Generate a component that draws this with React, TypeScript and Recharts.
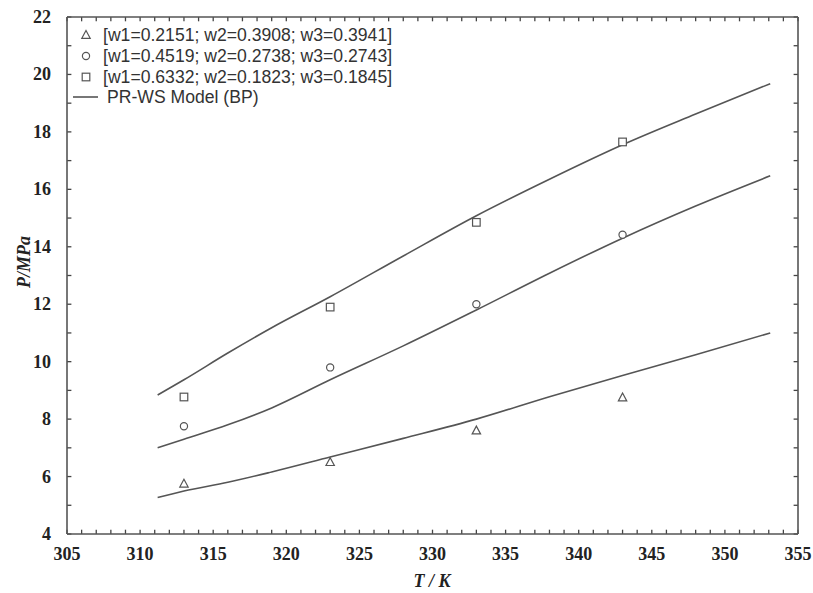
import React from "react";
import {
  ComposedChart,
  Line,
  Scatter,
  XAxis,
  YAxis,
  ReferenceLine,
} from "recharts";

// Experimental bubble points for the three compositions
const expT = [313, 323, 333, 343];
const expP1 = [5.75, 6.5, 7.6, 8.75];
const expP2 = [7.75, 9.8, 12.0, 14.42];
const expP3 = [8.77, 11.9, 14.85, 17.65];

// PR-WS model curves
const modelT = [311.2, 313, 316, 319, 323, 328, 333, 338, 343, 348, 353.1];
const modelP1 = [5.27, 5.5, 5.8, 6.16, 6.68, 7.33, 8.0, 8.78, 9.52, 10.24, 11.0];
const modelP2 = [7.0, 7.3, 7.8, 8.39, 9.37, 10.55, 11.8, 13.08, 14.3, 15.42, 16.47];
const modelP3 = [8.84, 9.37, 10.3, 11.18, 12.26, 13.68, 15.08, 16.35, 17.55, 18.62, 19.68];

const legendLabels = [
  "[w1=0.2151; w2=0.3908; w3=0.3941]",
  "[w1=0.4519; w2=0.2738; w3=0.2743]",
  "[w1=0.6332; w2=0.1823; w3=0.1845]",
  "PR-WS Model (BP)",
];

const X_MIN = 305;
const X_MAX = 355;
const Y_MIN = 4;
const Y_MAX = 22;
const xTicks = Array.from({ length: 51 }, (_, i) => 305 + i);
const yTicks = Array.from({ length: 19 }, (_, i) => 4 + i);

const toPoints = (t: number[], p: number[]) => t.map((T, i) => ({ T, P: p[i] }));

const exp1 = toPoints(expT, expP1);
const exp2 = toPoints(expT, expP2);
const exp3 = toPoints(expT, expP3);
const model1 = toPoints(modelT, modelP1);
const model2 = toPoints(modelT, modelP2);
const model3 = toPoints(modelT, modelP3);

const INK = "#555";
const TEXT = "#222";
// inward tick length, in data units (roughly 4-5px on each axis)
const TICK_DX = 0.3;
const TICK_DY = 0.15;
const tickFont = { fontFamily: "'Liberation Serif', 'Times New Roman', serif", fontWeight: 700, fontSize: 18, fill: TEXT };

const BottomLabel = (props: any) => {
  const { x, y, payload } = props;
  if (payload.value % 5 !== 0) return <g />;
  return (
    <text x={x} y={y + 26} textAnchor="middle" style={tickFont}>
      {payload.value}
    </text>
  );
};

const LeftLabel = (props: any) => {
  const { x, y, payload } = props;
  if (payload.value % 2 !== 0) return <g />;
  return (
    <text x={x - 16} y={y + 6} textAnchor="end" style={tickFont}>
      {payload.value}
    </text>
  );
};

const NoLabel = () => <g />;

const TriangleMark = (p: any) => (
  <polygon
    points={`${p.cx},${p.cy - 4.5} ${p.cx + 4.2},${p.cy + 3.3} ${p.cx - 4.2},${p.cy + 3.3}`}
    fill="#fff"
    stroke={INK}
    strokeWidth={1.2}
  />
);
const CircleMark = (p: any) => (
  <circle cx={p.cx} cy={p.cy} r={3.6} fill="#fff" stroke={INK} strokeWidth={1.2} />
);
const SquareMark = (p: any) => (
  <rect x={p.cx - 3.8} y={p.cy - 3.8} width={7.6} height={7.6} fill="#fff" stroke={INK} strokeWidth={1.2} />
);

const legendFont = { fontFamily: "'Liberation Sans', Arial, sans-serif", fontSize: 17.6, fill: "#333" };
const titleFont = { fontFamily: "'Liberation Serif', 'Times New Roman', serif", fontWeight: 700, fontStyle: "italic", fontSize: 18, fill: TEXT };

export default function App() {
  const lineProps = {
    type: "monotone" as const,
    dataKey: "P",
    stroke: INK,
    strokeWidth: 1.6,
    dot: false,
    activeDot: false,
    isAnimationActive: false,
    legendType: "none" as const,
  };
  const frame = { stroke: INK, strokeWidth: 1.6 };
  const shared = {
    type: "number" as const,
    interval: 0 as const,
    allowDataOverflow: true,
    tickSize: 0,
    tickMargin: 0,
    axisLine: frame,
    tickLine: false,
  };
  const tickSeg = { stroke: "#444", strokeWidth: 1.3, xAxisId: "b", yAxisId: "l", ifOverflow: "visible" as const };
  return (
    <div style={{ position: "relative", width: 813, height: 593, background: "#fff" }}>
      <style>{"body{margin:0}"}</style>
      <ComposedChart width={813} height={593} margin={{ top: 16, right: 14, bottom: 0, left: 0 }}>
        <XAxis xAxisId="b" dataKey="T" domain={[X_MIN, X_MAX]} ticks={xTicks} height={59} tick={BottomLabel} {...shared} />
        <XAxis xAxisId="t" orientation="top" dataKey="T" domain={[X_MIN, X_MAX]} ticks={xTicks} height={1} tick={NoLabel} {...shared} />
        <YAxis yAxisId="l" dataKey="P" domain={[Y_MIN, Y_MAX]} ticks={yTicks} width={67} tick={LeftLabel} {...shared} />
        <YAxis yAxisId="r" orientation="right" dataKey="P" domain={[Y_MIN, Y_MAX]} ticks={yTicks} width={1} tick={NoLabel} {...shared} />

        {/* inward tick marks on all four sides of the frame */}
        {xTicks.map((t) => (
          <ReferenceLine key={`xb${t}`} segment={[{ x: t, y: Y_MIN }, { x: t, y: Y_MIN + TICK_DY }]} {...tickSeg} />
        ))}
        {xTicks.map((t) => (
          <ReferenceLine key={`xt${t}`} segment={[{ x: t, y: Y_MAX }, { x: t, y: Y_MAX - TICK_DY }]} {...tickSeg} />
        ))}
        {yTicks.map((v) => (
          <ReferenceLine key={`yl${v}`} segment={[{ x: X_MIN, y: v }, { x: X_MIN + TICK_DX, y: v }]} {...tickSeg} />
        ))}
        {yTicks.map((v) => (
          <ReferenceLine key={`yr${v}`} segment={[{ x: X_MAX, y: v }, { x: X_MAX - TICK_DX, y: v }]} {...tickSeg} />
        ))}

        <Line xAxisId="b" yAxisId="l" data={model1} {...lineProps} />
        <Line xAxisId="b" yAxisId="l" data={model2} {...lineProps} />
        <Line xAxisId="b" yAxisId="l" data={model3} {...lineProps} />
        {/* invisible series so the top/right frame axes pick up a scale */}
        <Scatter xAxisId="t" yAxisId="r" data={exp1} dataKey="P" shape={() => <g />} isAnimationActive={false} />
        <Scatter xAxisId="b" yAxisId="l" data={exp1} dataKey="P" shape={<TriangleMark />} isAnimationActive={false} />
        <Scatter xAxisId="b" yAxisId="l" data={exp2} dataKey="P" shape={<CircleMark />} isAnimationActive={false} />
        <Scatter xAxisId="b" yAxisId="l" data={exp3} dataKey="P" shape={<SquareMark />} isAnimationActive={false} />
      </ComposedChart>
      <svg
        width={813}
        height={593}
        style={{ position: "absolute", left: 0, top: 0, pointerEvents: "none" }}
      >
        {/* legend */}
        <g>
          <polygon points="86,30.5 90.2,38.3 81.8,38.3" fill="#fff" stroke={INK} strokeWidth={1.2} />
          <text x={103} y={41} style={legendFont}>{legendLabels[0]}</text>
          <circle cx={86} cy={56} r={3.6} fill="#fff" stroke={INK} strokeWidth={1.2} />
          <text x={103} y={62} style={legendFont}>{legendLabels[1]}</text>
          <rect x={82.2} y={73.2} width={7.6} height={7.6} fill="#fff" stroke={INK} strokeWidth={1.2} />
          <text x={103} y={83} style={legendFont}>{legendLabels[2]}</text>
          <line x1={73} y1={97} x2={98} y2={97} stroke={INK} strokeWidth={1.6} />
          <text x={107} y={103} style={legendFont}>{legendLabels[3]}</text>
        </g>
        {/* axis titles */}
        <text x={432} y={587} textAnchor="middle" style={titleFont}>
          T / K
        </text>
        <text transform="translate(30,262) rotate(-90)" textAnchor="middle" style={titleFont}>
          P/MPa
        </text>
      </svg>
    </div>
  );
}
